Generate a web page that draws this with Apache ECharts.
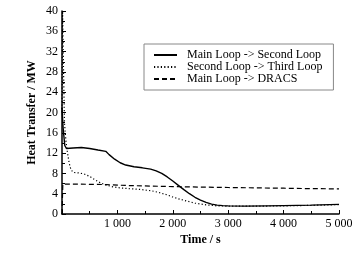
<!DOCTYPE html>
<html><head><meta charset="utf-8">
<script src="https://cdn.jsdelivr.net/npm/echarts@6/dist/echarts.min.js"></script>
<style>html,body{margin:0;padding:0;background:#fff}#c{width:358px;height:258px}</style>
</head><body><div id="c"></div>
<script>
var seriesNames = ['Main Loop -> Second Loop', 'Second Loop -> Third Loop', 'Main Loop -> DRACS'];
var xTicks = [0, 1000, 2000, 3000, 4000, 5000];
var yTicks = [0, 4, 8, 12, 16, 20, 24, 28, 32, 36, 40];

var timeMain = [0, 20, 50, 80, 200, 350, 500, 650, 790, 850, 950, 1050, 1150, 1300, 1450, 1600, 1700, 1800, 1900, 2000, 2100, 2200, 2300, 2400, 2500, 2600, 2700, 2800, 2900, 3000, 3300, 3700, 4000, 4500, 5000];
var heatMain = [21, 17, 13.5, 12.9, 13.0, 13.1, 12.9, 12.6, 12.35, 11.7, 10.8, 10.1, 9.65, 9.3, 9.1, 8.85, 8.5, 8.0, 7.3, 6.5, 5.65, 4.8, 4.0, 3.3, 2.75, 2.3, 1.95, 1.75, 1.65, 1.6, 1.55, 1.6, 1.65, 1.75, 1.9];

var timeThird = [0, 10, 25, 45, 70, 100, 130, 160, 200, 300, 400, 500, 600, 700, 800, 900, 1000, 1200, 1400, 1600, 1750, 1900, 2000, 2100, 2250, 2400, 2600, 2800, 3000, 3500, 4000, 4500, 5000];
var heatThird = [20, 40, 30, 18, 14.5, 12, 10, 8.8, 8.2, 8.1, 7.9, 7.4, 6.7, 6.1, 5.7, 5.4, 5.2, 5.0, 4.85, 4.6, 4.25, 3.75, 3.35, 3.0, 2.55, 2.15, 1.8, 1.6, 1.55, 1.55, 1.6, 1.7, 1.85];

var timeDracs = [0, 15, 200, 500, 800, 1200, 1600, 2000, 2500, 3000, 3500, 4000, 4500, 5000];
var heatDracs = [0, 5.9, 5.9, 5.85, 5.8, 5.6, 5.5, 5.4, 5.3, 5.22, 5.15, 5.08, 5.0, 4.95];

function pairs(t, v) { return t.map(function (x, i) { return [x, v[i]]; }); }

var font = '"Liberation Serif", "Times New Roman", serif';
var chart = echarts.init(document.getElementById('c'), null, {renderer: 'canvas'});
chart.setOption({
  animation: false,
  backgroundColor: '#fff',
  textStyle: {fontFamily: font, color: '#000'},
  grid: {left: 62, right: 19, top: 11, bottom: 44, containLabel: false},
  legend: {
    orient: 'vertical', left: 144, top: 44,
    padding: [5, 11, 5, 9],
    borderColor: '#888', borderWidth: 1,
    itemWidth: 23, itemHeight: 12, itemGap: 0,
    itemStyle: {opacity: 0},
    textStyle: {fontFamily: font, fontSize: 12, lineHeight: 12, color: '#000', padding: [0, 0, 0, 5]},
    data: seriesNames
  },
  xAxis: {
    type: 'value', min: xTicks[0], max: xTicks[xTicks.length - 1], interval: 1000,
    name: 'Time / s', nameLocation: 'middle', nameGap: 20, nameMoveOverlap: false,
    nameTextStyle: {fontFamily: font, fontSize: 12, fontWeight: 'bold', color: '#000'},
    axisLine: {show: true, lineStyle: {color: '#000', width: 1.5}},
    axisTick: {show: true, inside: true, length: 4, lineStyle: {color: '#000'}},
    minorTick: {show: true, splitNumber: 2, length: 3, lineStyle: {color: '#000'}},
    splitLine: {show: false},
    axisLabel: {fontFamily: font, fontSize: 12, color: '#000', margin: 4,
      formatter: function (v) { if (v === 0) return ''; var s = String(v); return s.slice(0, s.length - 3) + ' ' + s.slice(-3); }}
  },
  yAxis: {
    type: 'value', min: yTicks[0], max: yTicks[yTicks.length - 1], interval: 4,
    name: 'Heat Transfer / MW', nameLocation: 'middle', nameGap: 24, nameMoveOverlap: false,
    nameTextStyle: {fontFamily: font, fontSize: 12, fontWeight: 'bold', color: '#000'},
    axisLine: {show: true, lineStyle: {color: '#000', width: 1.5}},
    axisTick: {show: true, inside: true, length: 4, lineStyle: {color: '#000'}},
    minorTick: {show: true, splitNumber: 2, length: 3, lineStyle: {color: '#000'}},
    splitLine: {show: false},
    axisLabel: {fontFamily: font, fontSize: 12, color: '#000', margin: 4}
  },
  series: [
    {name: seriesNames[0], type: 'line', showSymbol: false, symbol: 'none', data: pairs(timeMain, heatMain),
      lineStyle: {color: '#000', width: 1.4, type: 'solid'}, itemStyle: {color: '#000'}},
    {name: seriesNames[1], type: 'line', showSymbol: false, symbol: 'none', data: pairs(timeThird, heatThird),
      lineStyle: {color: '#000', width: 1.2, type: [1.2, 2.2]}, itemStyle: {color: '#000'}},
    {name: seriesNames[2], type: 'line', showSymbol: false, symbol: 'none', data: pairs(timeDracs, heatDracs),
      lineStyle: {color: '#000', width: 1.2, type: [5, 3]}, itemStyle: {color: '#000'}}
  ]
});
</script></body></html>
